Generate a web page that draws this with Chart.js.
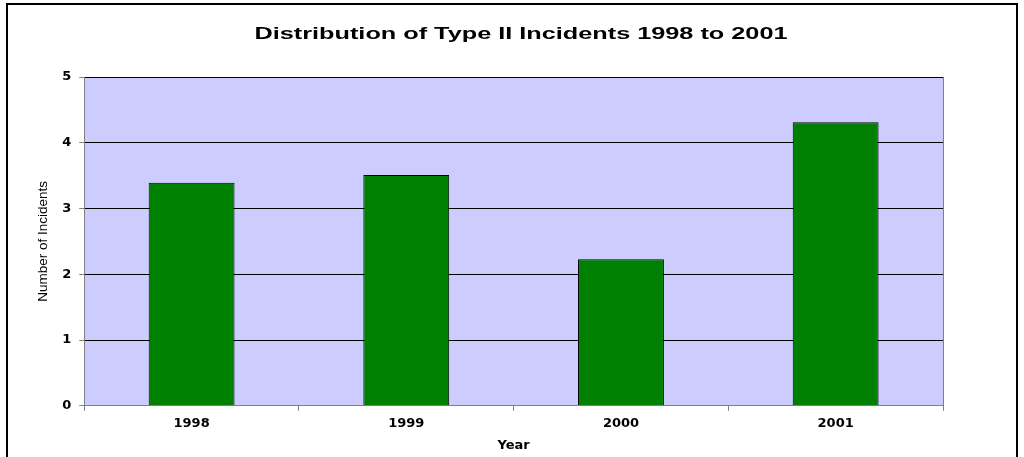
<!DOCTYPE html>
<html>
<head>
<meta charset="utf-8">
<script src="https://cdn.jsdelivr.net/npm/chart.js@4.4.1/dist/chart.umd.min.js"></script>
<style>
  html, body { margin: 0; padding: 0; background: #fff; overflow: hidden; }
  #frame { position: absolute; left: 6px; top: 3px; width: 1008px; height: 470px; border: 2px solid #000; }
  #chart { position: absolute; left: 0; top: 0; }
</style>
</head>
<body>
<div id="frame"></div>
<canvas id="chart" width="1024" height="457"></canvas>
<script>
const years = ['1998', '1999', '2000', '2001'];
const incidents = [3.39, 3.51, 2.23, 4.31];
const yTicks = [0, 1, 2, 3, 4, 5];
const chartTitle = 'Distribution of Type II Incidents 1998 to 2001';

// фон и рамка области построения
const plotBg = {
  id: 'plotBg',
  beforeDraw(chart) {
    const { ctx, chartArea: a } = chart;
    ctx.save();
    ctx.fillStyle = '#ccccff';
    ctx.fillRect(a.left, a.top, a.right - a.left, a.bottom - a.top);
    ctx.strokeStyle = '#808080';
    ctx.lineWidth = 1;
    ctx.beginPath();
    ctx.moveTo(a.right + 0.5, a.top);
    ctx.lineTo(a.right + 0.5, a.bottom);
    ctx.stroke();
    ctx.restore();
  }
};

// заголовок, растянутый по ширине как в Excel
const wideTitle = {
  id: 'wideTitle',
  afterDraw(chart) {
    const { ctx } = chart;
    ctx.save();
    ctx.font = 'bold 16px "Liberation Sans", Arial, sans-serif';
    ctx.fillStyle = '#000';
    ctx.textAlign = 'center';
    ctx.textBaseline = 'alphabetic';
    const w = ctx.measureText(chartTitle).width;
    ctx.translate(521, 39);
    ctx.scale(533 / w, 1);
    ctx.fillText(chartTitle, 0, 0);
    ctx.restore();
  }
};

const tickFont = { family: 'DejaVu Sans', size: 13, weight: 'bold' };

new Chart(document.getElementById('chart'), {
  type: 'bar',
  data: {
    labels: years,
    datasets: [{
      data: incidents,
      backgroundColor: '#008000',
      borderColor: '#000',
      borderWidth: 1,
      barPercentage: 0.4,
      categoryPercentage: 1
    }]
  },
  options: {
    responsive: false,
    animation: false,
    layout: { padding: { top: 77, left: 35, right: 81, bottom: 4 } },
    plugins: {
      legend: { display: false },
      tooltip: { enabled: false },
      title: { display: false }
    },
    scales: {
      x: {
        offset: true,
        grid: { offset: true, drawOnChartArea: false, tickLength: 5, color: '#808080' },
        border: { color: '#808080' },
        ticks: { color: '#000', font: tickFont, padding: 5 },
        title: { display: true, text: 'Year', color: '#000', font: tickFont, padding: { top: 1, bottom: 0 } }
      },
      y: {
        min: 0,
        max: 5,
        afterBuildTicks: (axis) => { axis.ticks = yTicks.map(v => ({ value: v })); },
        grid: { color: '#000', tickLength: 5, tickColor: '#808080' },
        border: { color: '#808080' },
        ticks: { color: '#000', font: tickFont, padding: 8 },
        title: { display: true, text: 'Number of Incidents', color: '#000', font: { family: 'Liberation Sans', size: 13.5 }, padding: { top: 0, bottom: 3 } }
      }
    }
  },
  plugins: [plotBg, wideTitle]
});
</script>
</body>
</html>
